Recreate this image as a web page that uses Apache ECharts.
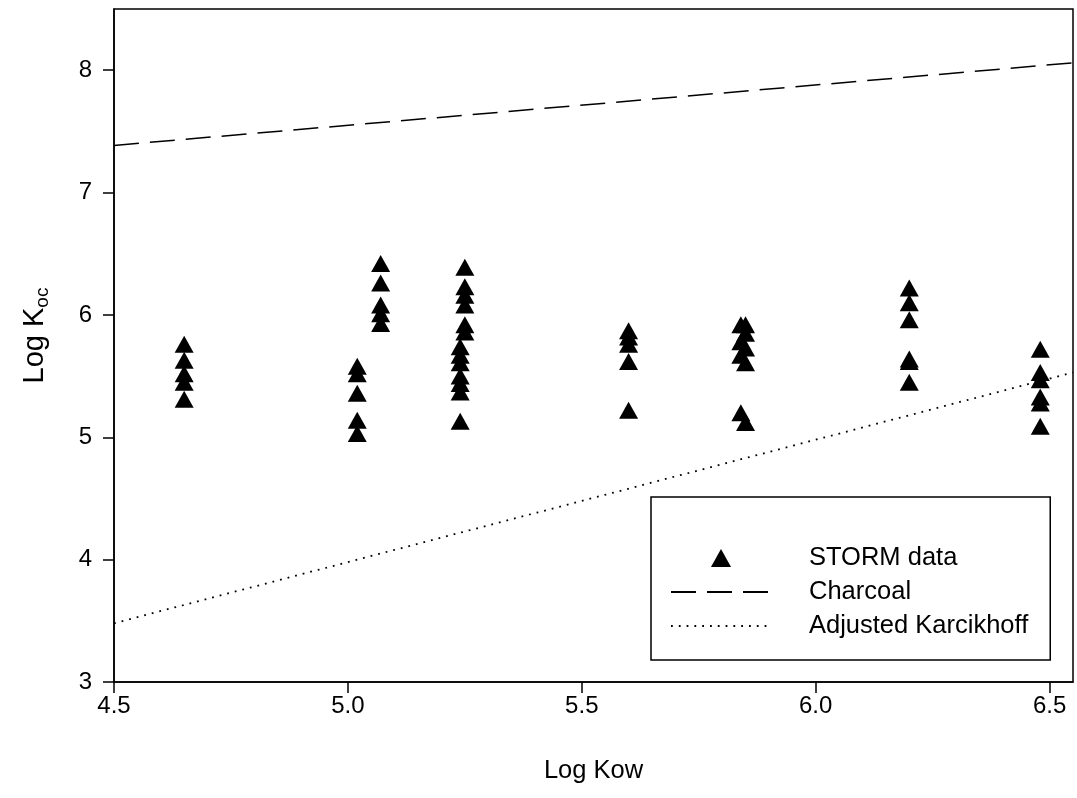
<!DOCTYPE html>
<html>
<head>
<meta charset="utf-8">
<title>Log Koc vs Log Kow</title>
<script src="https://cdn.jsdelivr.net/npm/echarts@6/dist/echarts.min.js"></script>
<style>
    html, body {margin: 0; padding: 0; background: #fff;}
    #chart {width: 1077px; height: 798px;}
</style>
</head>
<body>
<div id="chart"></div>
<script>
// STORM 数据点 (Log Kow, Log Koc)
var stormKow = [
    4.65, 4.65, 4.65, 4.65, 4.65,
    5.02, 5.02, 5.02, 5.02, 5.02,
    5.07, 5.07, 5.07, 5.07, 5.07,
    5.25, 5.25, 5.25, 5.25, 5.25, 5.25,
    5.24, 5.24, 5.24, 5.24, 5.24, 5.24, 5.24,
    5.60, 5.60, 5.60, 5.60, 5.60,
    5.84, 5.84, 5.84, 5.84,
    5.85, 5.85, 5.85, 5.85, 5.85,
    6.20, 6.20, 6.20, 6.20, 6.20, 6.20,
    6.48, 6.48, 6.48, 6.48, 6.48, 6.48
];
var stormKoc = [
    5.76, 5.63, 5.52, 5.45, 5.31,
    5.58, 5.52, 5.36, 5.14, 5.03,
    6.42, 6.26, 6.08, 6.01, 5.93,
    6.39, 6.23, 6.16, 6.08, 5.92, 5.86,
    5.74, 5.67, 5.61, 5.50, 5.44, 5.37, 5.13,
    5.87, 5.82, 5.76, 5.62, 5.22,
    5.92, 5.78, 5.67, 5.20,
    5.92, 5.85, 5.73, 5.61, 5.12,
    6.22, 6.10, 5.96, 5.64, 5.62, 5.45,
    5.72, 5.53, 5.47, 5.33, 5.28, 5.09
];

// 回归线 Charcoal / Adjusted Karcikhoff 两端点
var charcoalKow = [4.5, 6.55];
var charcoalKoc = [7.385, 8.06];
var karcKow = [4.5, 6.55];
var karcKoc = [3.48, 5.53];

// 刻度
var xTicks = [4.5, 5.0, 5.5, 6.0, 6.5];
var yTicks = [3, 4, 5, 6, 7, 8];

function pairs(xs, ys) {
    var out = [];
    for (var i = 0; i < xs.length; i++) {
        out.push([xs[i], ys[i]]);
    }
    return out;
}

var font = '"Liberation Sans", Arial, sans-serif';
var chart = echarts.init(document.getElementById('chart'));

var option = {
    animation: false,
    backgroundColor: '#fff',
    textStyle: {fontFamily: font, color: '#000'},
    grid: {
        left: 114, right: 4, top: 9, bottom: 116,
        show: true, borderColor: '#000', borderWidth: 1.5, backgroundColor: 'transparent'
    },
    legend: {
        orient: 'vertical',
        left: 651, top: 497,
        padding: [48, 22, 21, 19],
        itemWidth: 100, itemHeight: 18, itemGap: 8,
        symbolKeepAspect: true,
        borderColor: '#000', borderWidth: 1.5,
        textStyle: {fontFamily: font, fontSize: 25.5, color: '#000', padding: [0, 0, 0, 33]},
        data: [
            //三角图例保持比例
            {name: 'STORM data', icon: 'path://M0,17L9.5,0L19,17Z', itemStyle: {color: '#000', opacity: 1}},
            {name: 'Charcoal'},
            {name: 'Adjusted Karcikhoff'}
        ]
    },
    xAxis: {
        type: 'value',
        min: 4.5, max: 6.55,
        name: 'Log Kow',
        nameLocation: 'middle',
        nameGap: 76,
        nameTextStyle: {fontFamily: font, fontSize: 25.5, color: '#000'},
        axisLine: {show: true, onZero: false, lineStyle: {color: '#000', width: 1.5}},
        axisTick: {show: true, inside: false, length: 11, customValues: xTicks, lineStyle: {color: '#000', width: 1.5}},
        axisLabel: {
            customValues: xTicks, margin: 12,
            fontFamily: font, fontSize: 24, color: '#000',
            formatter: function (v) { return v.toFixed(1); }
        },
        splitLine: {show: false}
    },
    yAxis: {
        type: 'value',
        min: 3, max: 8.5,
        name: '{a|Log K}{b|oc}',
        nameLocation: 'middle',
        nameGap: 62,
        nameTextStyle: {
            fontFamily: font, color: '#000',
            padding: [0, 0, 0, 20],
            rich: {
                a: {fontFamily: font, fontSize: 29, color: '#000'},
                b: {fontFamily: font, fontSize: 19, color: '#000', padding: [16, 0, 0, 0]}
            }
        },
        axisLine: {show: true, onZero: false, lineStyle: {color: '#000', width: 1.5}},
        axisTick: {show: true, inside: false, length: 11, customValues: yTicks, lineStyle: {color: '#000', width: 1.5}},
        axisLabel: {
            customValues: yTicks, margin: 22,
            fontFamily: font, fontSize: 24, color: '#000'
        },
        splitLine: {show: false}
    },
    series: [
        {
            name: 'STORM data',
            type: 'scatter',
            symbol: 'triangle',
            symbolSize: [19, 17],
            itemStyle: {color: '#000', opacity: 1},
            data: pairs(stormKow, stormKoc)
        },
        {
            name: 'Charcoal',
            type: 'line',
            symbol: 'none',
            itemStyle: {color: 'rgba(0,0,0,0)'},
            lineStyle: {color: '#000', width: 1.5, type: [25, 11]},
            data: pairs(charcoalKow, charcoalKoc)
        },
        {
            name: 'Adjusted Karcikhoff',
            type: 'line',
            symbol: 'none',
            itemStyle: {color: 'rgba(0,0,0,0)'},
            lineStyle: {color: '#000', width: 1.8, type: [1.8, 6]},
            data: pairs(karcKow, karcKoc)
        }
    ]
};

chart.setOption(option);
</script>
</body>
</html>
